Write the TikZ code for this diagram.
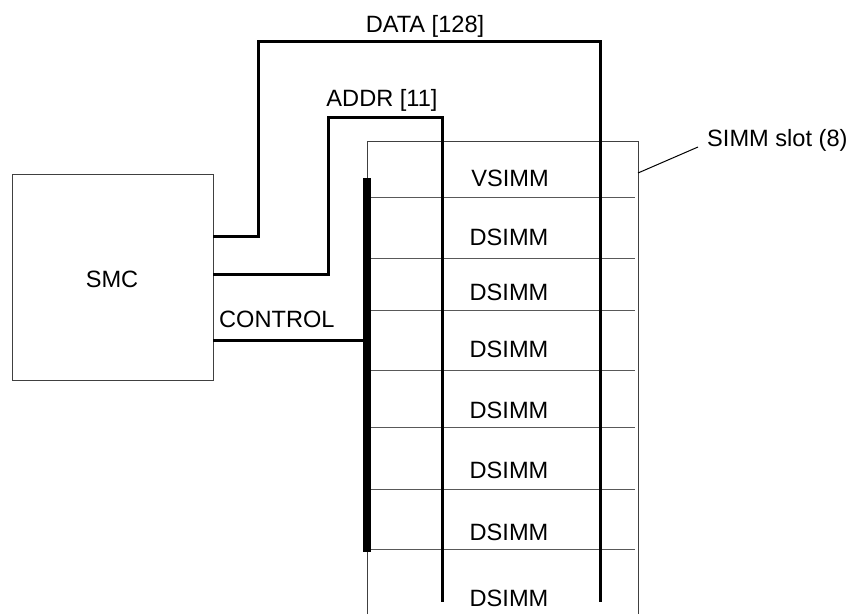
\documentclass[tikz,border=0pt]{standalone}
\usepackage{fontspec}
\setmainfont{Liberation Sans}
\begin{document}
\begin{tikzpicture}[x=1pt,y=-1pt,
  outline/.style={draw=black!75,line width=1pt},
  rowline/.style={draw=black!65,line width=1pt},
  bus/.style={draw=black,line width=3pt},
  bar/.style={draw=black,line width=8pt},
  lbl/.style={font=\fontsize{23.6}{28}\selectfont,inner sep=0pt,anchor=base}]
\useasboundingbox (0,0) rectangle (852,614);
% SMC box
\node[outline,minimum width=201pt,minimum height=206pt,inner sep=0pt,anchor=north west] (smc) at (12,174) {};
\node[lbl] (smclbl) at (112,287) {SMC};
% SIMM slot outline
\coordinate (slotBL) at (367,614);
\coordinate (slotTL) at (367,141);
\coordinate (slotTR) at (638,141);
\coordinate (slotBR) at (638,614);
\draw[outline] (slotBL) -- (slotTL) -- (slotTR) -- (slotBR);
% rows
\foreach \y in {197,258,310,370,427,489,549}{
  \draw[rowline] (370,\y) -- (635,\y);
}
% control bar
\coordinate (barT) at (367,178);
\coordinate (barB) at (367,552);
\draw[bar] (barT) -- (barB);
% DATA bus
\coordinate (d0) at (213,236);
\coordinate (d1) at (258,41);
\coordinate (d2) at (600,602);
\draw[bus] (d0) -| (d1) -| (d2);
% ADDR bus
\coordinate (a0) at (213,274);
\coordinate (a1) at (328,117);
\coordinate (a2) at (442,602);
\draw[bus] (a0) -| (a1) -| (a2);
% CONTROL
\coordinate (c0) at (213,340);
\coordinate (c1) at (363,340);
\draw[bus] (c0) -- (c1);
% labels
\node[lbl] (datalbl) at (425,32) {DATA [128]};
\node[lbl] (addrlbl) at (382,106) {ADDR [11]};
\node[lbl,anchor=base west] (ctrllbl) at (219,327) {CONTROL};
\node[lbl] (v1) at (510,186) {VSIMM};
\node[lbl] (d1l) at (509,245) {DSIMM};
\node[lbl] (d2l) at (509,300) {DSIMM};
\node[lbl] (d3l) at (509,357) {DSIMM};
\node[lbl] (d4l) at (509,418) {DSIMM};
\node[lbl] (d5l) at (509,478) {DSIMM};
\node[lbl] (d6l) at (509,540) {DSIMM};
\node[lbl] (d7l) at (509,606) {DSIMM};
\node[lbl,anchor=base west] (slotlbl) at (707,146) {SIMM slot (8)};
\coordinate (leadA) at (638,173);
\coordinate (leadB) at (698,147);
\draw[draw=black,line width=1pt] (leadA) -- (leadB);
\end{tikzpicture}
\end{document}
